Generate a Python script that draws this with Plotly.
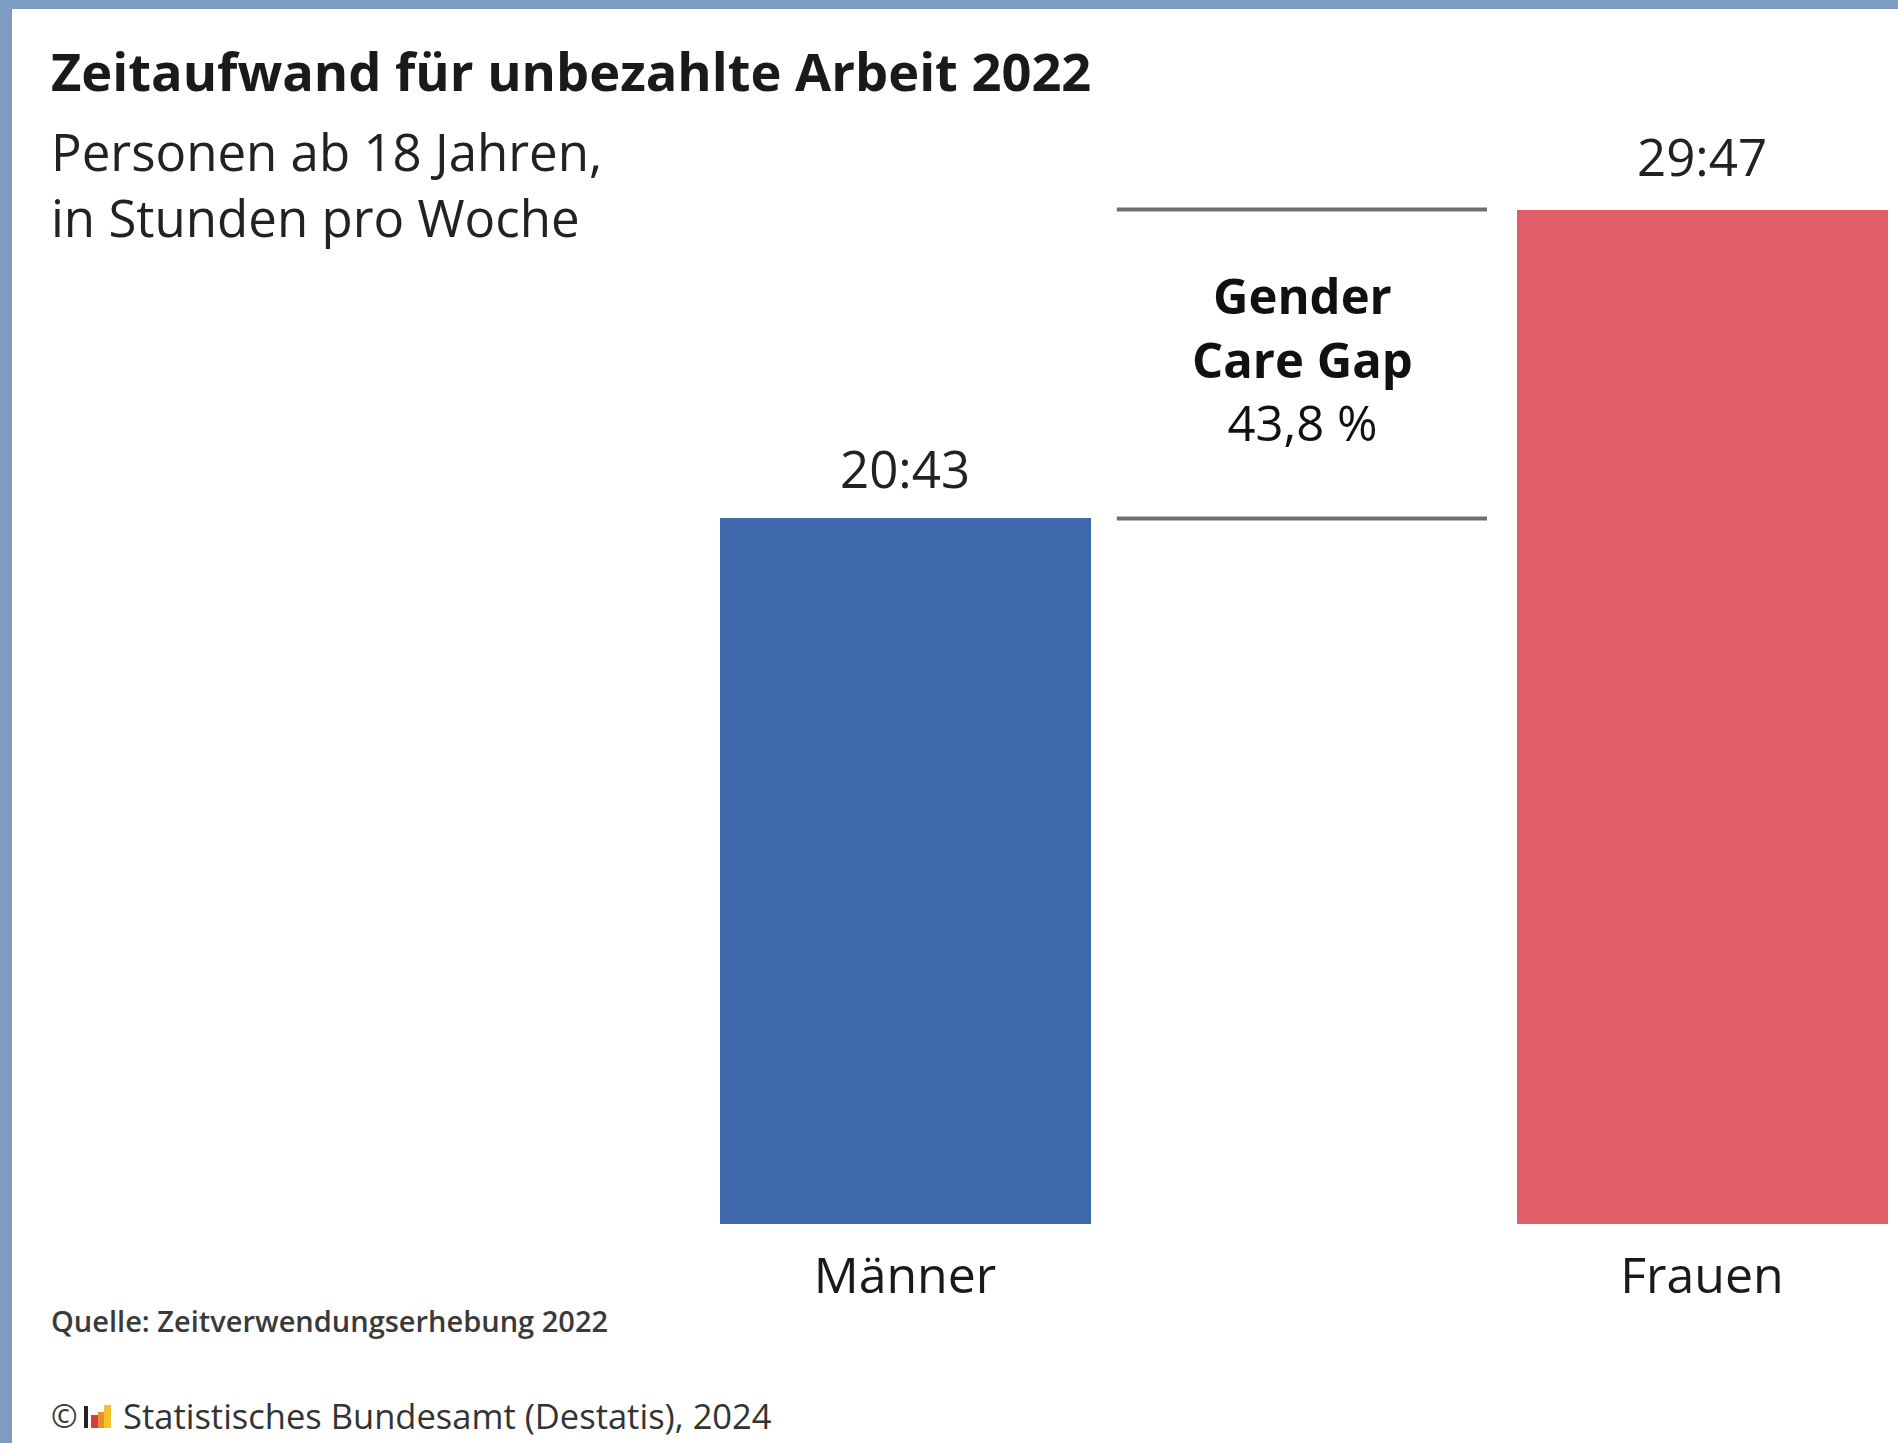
import plotly.graph_objects as go

# ---- data ----
categories = ["Männer", "Frauen"]
time_labels = ["20:43", "29:47"]
hours = [20 + 43 / 60, 29 + 47 / 60]
gap_label = "43,8 %"
bar_colors = ["#3e69aa", "#e15e69"]

title = "Zeitaufwand für unbezahlte Arbeit 2022"
subtitle = "Personen ab 18 Jahren,<br>in Stunden pro Woche"
source = "Quelle: Zeitverwendungserhebung 2022"
copyright_txt = "Statistisches Bundesamt (Destatis), 2024"

# ---- layout geometry ----
W, H = 1898, 1443
AXIS_PX = 1224          # pixel row of y = 0
PX_PER_H = 34.06
BAR_W = 0.4655
CAT_STEP = 797
CAT0_PX = 905

x_rng = [-CAT0_PX / CAT_STEP, (W - CAT0_PX) / CAT_STEP]
y_rng = [0, AXIS_PX / PX_PER_H]


def px(p):
    return p / W


def py(p):
    return (AXIS_PX - p) / AXIS_PX


FONT = "Open Sans, Noto Sans, sans-serif"

fig = go.Figure()
fig.add_trace(go.Bar(
    x=[0, 1], y=hours, width=BAR_W,
    marker=dict(color=bar_colors, line=dict(width=0)),
    hoverinfo="skip", showlegend=False,
))

annotations = []
# value labels
for i, (lab, v, shift) in enumerate(zip(time_labels, hours, [50, 54])):
    annotations.append(dict(
        x=i, y=v, xref="x", yref="y", text=lab, showarrow=False,
        xanchor="center", yanchor="middle", yshift=shift,
        font=dict(family=FONT, size=51, color="#222222"),
    ))

# gap text
annotations.append(dict(
    x=px(1302), y=py(359), xref="paper", yref="paper",
    text="<b>Gender</b><br><b>Care Gap</b><br>" + gap_label,
    showarrow=False, xanchor="center", yanchor="middle", align="center",
    font=dict(family=FONT, size=49, color="#111111"),
))

# title + subtitle
annotations.append(dict(
    x=px(49), y=py(70), xref="paper", yref="paper", text="<b>" + title + "</b>",
    showarrow=False, xanchor="left", yanchor="middle",
    font=dict(family=FONT, size=52.4, color="#1a1a1a"),
))
annotations.append(dict(
    x=px(49), y=py(184), xref="paper", yref="paper", text=subtitle,
    showarrow=False, xanchor="left", yanchor="middle", align="left",
    font=dict(family=FONT, size=51, color="#222222"),
))
# source
annotations.append(dict(
    x=px(49), y=py(1320), xref="paper", yref="paper", text=source,
    showarrow=False, xanchor="left", yanchor="middle",
    font=dict(family=FONT, size=29, color="#3a3a3a", weight=600),
))
annotations.append(dict(
    x=px(49), y=py(1416), xref="paper", yref="paper", text="©",
    showarrow=False, xanchor="left", yanchor="middle",
    font=dict(family=FONT, size=32, color="#3a3a3a"),
))
annotations.append(dict(
    x=px(121), y=py(1416), xref="paper", yref="paper", text=copyright_txt,
    showarrow=False, xanchor="left", yanchor="middle",
    font=dict(family=FONT, size=34.5, color="#333333"),
))

shapes = []
# gap lines at the two bar heights
half = BAR_W / 2
for v in hours:
    shapes.append(dict(
        type="line", xref="x", yref="y",
        x0=half + 0.033, x1=1 - half - 0.037,
        y0=v, y1=v, line=dict(color="#6e6e6e", width=4),
    ))

# page border (top and left)
border = "#7f9dc4"
shapes.append(dict(type="rect", xref="paper", yref="paper", x0=0, x1=1,
                   y0=py(9), y1=py(0), fillcolor=border, line=dict(width=0), layer="above"))
shapes.append(dict(type="rect", xref="paper", yref="paper", x0=0, x1=px(12),
                   y0=py(H), y1=py(0), fillcolor=border, line=dict(width=0), layer="above"))
# small Destatis logo
for (a, b, t, c) in [(84, 88, 1406, "#222222"), (91, 98, 1415, "#d9393f"),
                     (98, 104, 1412, "#e8902a"), (104, 111, 1405, "#f2c230")]:
    shapes.append(dict(type="rect", xref="paper", yref="paper", x0=px(a), x1=px(b),
                       y0=py(1428), y1=py(t), fillcolor=c, line=dict(width=0)))

fig.update_layout(
    width=W, height=H,
    margin=dict(l=0, r=0, t=0, b=H - AXIS_PX),
    paper_bgcolor="white", plot_bgcolor="white",
    xaxis=dict(range=x_rng, tickvals=[0, 1], ticktext=categories,
               showgrid=False, zeroline=False, showline=False,
               ticks="outside", ticklen=8, tickcolor="rgba(0,0,0,0)",
               tickfont=dict(family=FONT, size=50, color="#1a1a1a"),
               fixedrange=True),
    yaxis=dict(range=y_rng, visible=False, fixedrange=True),
    annotations=annotations, shapes=shapes,
    bargap=0,
)

fig.write_html("out.html")
